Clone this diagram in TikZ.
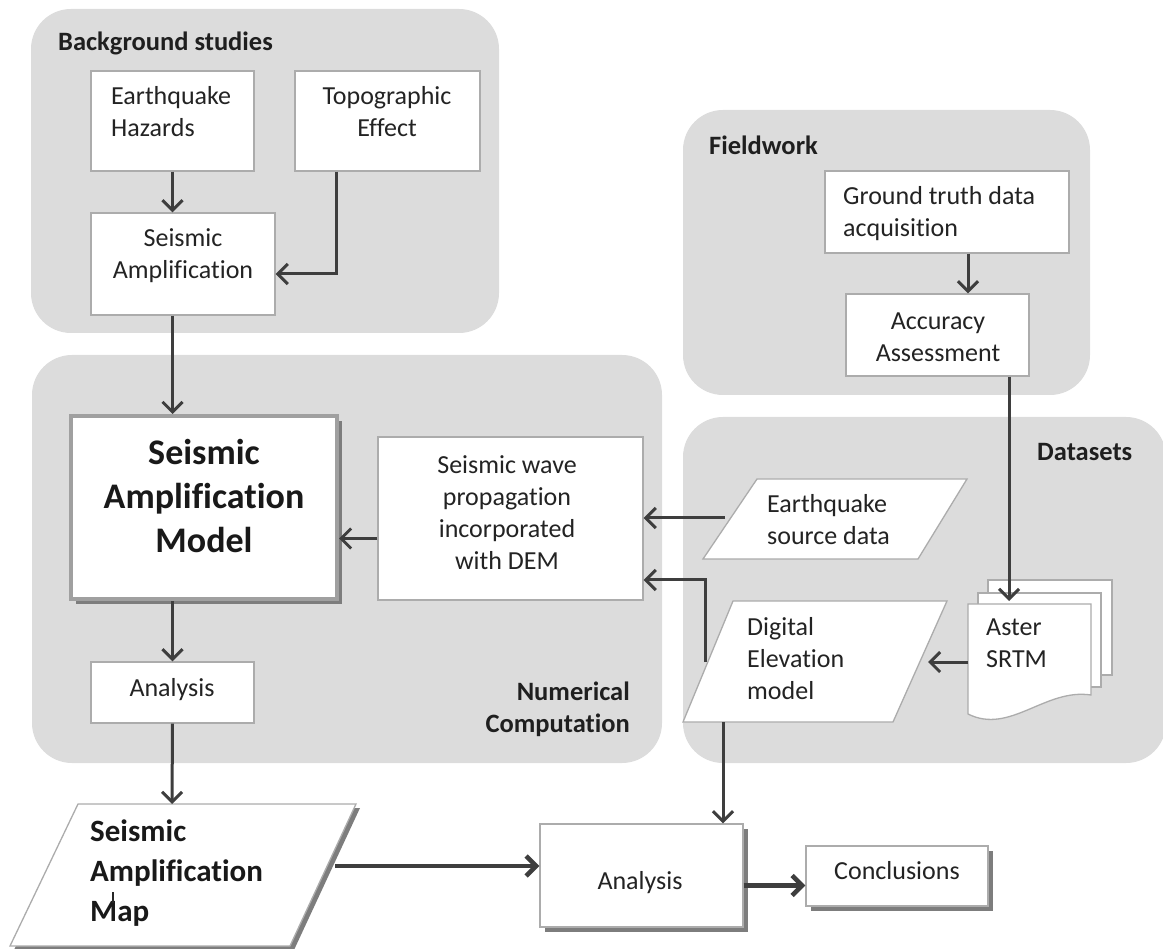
\documentclass[tikz,border=0pt]{standalone}
\usepackage{fontspec}
\setmainfont{Carlito}[Ligatures=NoCommon]
\usetikzlibrary{arrows.meta,shadows,calc}
\definecolor{grp}{RGB}{220,220,220}
\definecolor{bgray}{RGB}{172,172,172}
\definecolor{arrc}{RGB}{62,62,62}
\definecolor{txtc}{RGB}{35,35,35}
\definecolor{shad}{RGB}{125,125,125}
\begin{document}
\begin{tikzpicture}[x=1pt,y=-1pt,
  group/.style={fill=grp, draw=none, rounded corners=40pt, inner sep=0pt},
  box/.style={draw=bgray, line width=1.3pt, fill=white, inner sep=0pt},
  sbox/.style={box, drop shadow={shadow xshift=5pt, shadow yshift=-5pt, fill=shad, opacity=1}},
  txt/.style={font=\fontsize{26}{32}\selectfont, text=txtc, inner sep=0pt, align=center},
  ttl/.style={font=\fontsize{26.5}{32}\selectfont\bfseries, text=black!88, inner sep=0pt},
  arr/.style={draw=arrc, line width=3pt, -{Straight Barb[length=10pt,width=20pt]}},
  tarr/.style={arr, line width=4.6pt}
]
\useasboundingbox (0,0) rectangle (1163,949);
% groups
\node[group, minimum width=468, minimum height=324] (bg) at (265,171) {};
\node[group, minimum width=407, minimum height=285] (fw) at (886.5,252.5) {};
\node[group, minimum width=630, minimum height=408] (nc) at (347,559) {};
\node[group, minimum width=483, minimum height=346] (ds) at (924.5,590) {};

% boxes
\node[box, minimum width=163, minimum height=100] (eh) at (172.5,121) {};
\node[box, minimum width=185, minimum height=100] (te) at (387.5,121) {};
\node[box, minimum width=184, minimum height=102] (sa) at (183,264) {};
\node[box, minimum width=244, minimum height=82] (gt) at (947,212) {};
\node[box, minimum width=183, minimum height=82] (aa) at (937.5,335) {};
\node[box, draw={rgb,255:red,160;green,160;blue,160}, line width=4pt, minimum width=266, minimum height=183,
      drop shadow={shadow xshift=5pt, shadow yshift=-5pt, fill=shad, opacity=1}] (sam) at (204,507.5) {};
\node[box, minimum width=265, minimum height=163] (sw) at (510.5,518.5) {};
\node[box, minimum width=163, minimum height=61] (an1) at (172.5,692.5) {};
\node[sbox, minimum width=203, minimum height=103] (an2) at (641.5,875.5) {};
\node[sbox, minimum width=182, minimum height=60] (conc) at (897,876) {};

% parallelograms
\draw[box] (757,479) -- (967,479) -- (918,559) -- (703,559) -- cycle;
\draw[box] (733,601) -- (947,601) -- (893,722) -- (683,722) -- cycle;
\draw[box, drop shadow={shadow xshift=4pt, shadow yshift=-4pt, fill=shad, opacity=1}]
  (78,804) -- (356,804) -- (290,946) -- (10,946) -- cycle;

% multi-document
\draw[box] (988,580) rectangle (1112,675);
\draw[box] (978,593) rectangle (1101,687);
\draw[box] (968,604) -- (1091,604) -- (1091,695) .. controls (1045,688) and (1010,735) .. (968,714) -- cycle;

% connection coordinates
\coordinate (esdL) at (725,518);
\coordinate (demL) at (705,662);
\coordinate (demR) at (928,662);
\coordinate (demB) at (723,722);
\coordinate (asterT) at (1009,601);
\coordinate (asterL) at (968,662);
\coordinate (mapT) at (172,804);
\coordinate (mapR) at (335,866);

% texts
\node[ttl, anchor=west] (bgT) at (58,43) {Background studies};
\node[txt, align=left, anchor=west] (ehT) at (111,112) {Earthquake\\Hazards};
\node[txt] (teT) at (387,112) {Topographic\\Effect};
\node[txt] (saT) at (183,256) {Seismic\\Amplification};
\node[ttl, anchor=west] (fwT) at (709,145) {Fieldwork};
\node[txt, align=left, anchor=west] (gtT) at (843,214) {Ground truth data\\acquisition};
\node[txt] (aaT) at (938,337) {Accuracy\\Assessment};
\node[font=\fontsize{36}{44}\selectfont\bfseries, text=black!90, align=center, inner sep=0pt] (samT) at (204,496) {Seismic\\Amplification\\Model};
\node[txt] (swT) at (507,513) {Seismic wave\\propagation\\incorporated\\with DEM};
\node[ttl, align=right, anchor=east] (ncT) at (630,709) {Numerical\\Computation};
\node[txt] (an1T) at (172,690) {Analysis};
\node[ttl, anchor=west] (dsT) at (1037,452) {Datasets};
\node[txt, align=left, anchor=west] (esdT) at (767,520) {Earthquake\\source data};
\node[txt, align=left, anchor=west] (demT) at (747,659) {Digital\\Elevation\\model};
\node[txt, align=left, anchor=west] (asT) at (986,643) {Aster\\SRTM};
\node[font=\fontsize{31}{40}\selectfont\bfseries, text=black!90, align=left, anchor=west, inner sep=0pt] (mapTx) at (90,873) {Seismic\\Amplification\\Map};
\draw[black!85, line width=1.4pt] (113,892) -- (113,903);
\node[txt] (an2T) at (640,883) {Analysis};
\node[txt] (concT) at (897,871) {Conclusions};

% connectors
\draw[arr] (eh.south) -- (eh.south |- sa.north);
\draw[arr] ([xshift=42pt]te.south west) |- ([yshift=-10pt]sa.east);
\draw[arr] (sa.south -| eh.south) -- (sam.north -| eh.south);
\draw[arr] (gt.south -| 968,0) -- (aa.north -| 968,0);
\draw[arr] (aa.south -| asterT) -- (asterT);
\draw[arr] ([yshift=-20pt]sw.west) -- ([yshift=-20pt]sw.west -| sam.east);
\draw[arr] (esdL) -- (esdL -| sw.east);
\draw[arr] (demL) |- ([yshift=-61.5pt]sw.east);
\draw[arr] (asterL) -- (demR);
\draw[arr] (sam.south -| an1.north) -- (an1.north);
\draw[arr] (an1.south) -- (mapT);
\draw[arr] (demB) -- (demB |- an2.north);
\draw[tarr] (mapR) -- (mapR -| an2.west);
\draw[tarr] ([yshift=-10pt]an2.east) -- ([yshift=-10pt]an2.east -| conc.west);
\end{tikzpicture}
\end{document}
